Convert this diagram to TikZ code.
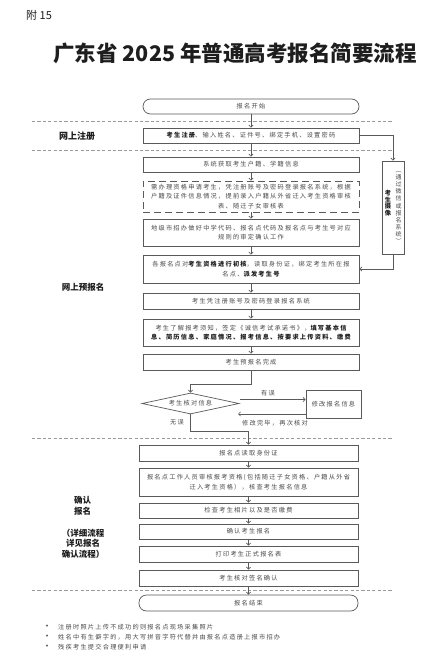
\documentclass[tikz,border=0pt]{standalone}
\usepackage{fontspec}
\setmainfont{Noto Sans CJK SC}
\newfontfamily\boxfont{Noto Sans CJK SC}[LetterSpace=20]
\usetikzlibrary{arrows.meta,shapes.geometric}
\definecolor{linec}{HTML}{5A5A5A}
\definecolor{txtc}{HTML}{4A4A4A}
\definecolor{darkc}{HTML}{1E1E1E}
\definecolor{sepc}{HTML}{9A9A9A}
\newcommand\bt[1]{\textcolor{darkc}{\bfseries #1}}
\tikzset{
  box/.style={draw=linec, line width=0.7pt, minimum height=#1, inner sep=0pt,
    align=center, font={\boxfont\fontsize{6.2pt}{9.5pt}\selectfont}, text=txtc},
  upbox/.style={box=#1, minimum width=216pt},
  lowbox/.style={box=#1, minimum width=219pt},
  startend/.style={rounded corners=7.5pt},
  dashbox/.style={dash pattern=on 7pt off 4pt},
  small/.style={inner sep=0pt, font={\boxfont\fontsize{6.2pt}{9.5pt}\selectfont}, text=txtc},
  arr/.style={draw=linec, line width=0.6pt, -{Straight Barb[length=2.2pt,width=4.2pt]}},
  plain/.style={draw=linec, line width=0.6pt},
  sepline/.style={draw=sepc, line width=0.6pt, dash pattern=on 3.2pt off 2.2pt},
  lab/.style={inner sep=0pt, font={\bfseries\fontsize{8.5pt}{11pt}\selectfont}, text=darkc},
  vtext/.style={inner sep=0pt, align=center, font={\fontsize{6pt}{7.1pt}\selectfont}, text=txtc},
}
\begin{document}
\begin{tikzpicture}[x=1pt,y=-1pt]
\useasboundingbox[fill=white] (0,0) rectangle (440,663);

% heading
\node[anchor=west, inner sep=0pt, font={\fontsize{11pt}{13pt}\selectfont}, text=darkc] (fu) at (26,15) {附 15};
\node[inner sep=0pt, font={\bfseries\fontsize{21.5pt}{25pt}\selectfont}, text=darkc] (title) at (235,53) {广东省 2025 年普通高考报名简要流程};

% separators
\coordinate (s1a) at (32,121); \coordinate (s1b) at (392,121);
\coordinate (s2a) at (32,150); \coordinate (s2b) at (392,150);
\coordinate (s3a) at (32,438); \coordinate (s3b) at (392,438);
\coordinate (s4a) at (32,590); \coordinate (s4b) at (392,590);
\draw[sepline] (s1a) -- (s1b);
\draw[sepline] (s2a) -- (s2b);
\draw[sepline] (s3a) -- (s3b);
\draw[sepline] (s4a) -- (s4b);

% upper boxes
\node[upbox=15pt, startend] (start) at (251,106.5) {报名开始};
\node[upbox=15pt] (reg) at (251,135.5) {\bt{考生注册}、输入姓名、证件号、绑定手机、设置密码};
\node[upbox=15pt] (sys) at (251,164.5) {系统获取考生户籍、学籍信息};
\node[upbox=31pt, dashbox] (qual) at (251,196.5) {需办理资格申请考生，凭注册账号及密码登录报名系统，根据\\户籍及证件信息情况，提前录入户籍从外省迁入考生资格审核\\表、随迁子女审核表};
\node[upbox=27pt] (city) at (251,232.5) {地级市招办做好中学代码、报名点代码及报名点与考生号对应\\规则的审定确认工作};
\node[upbox=28pt] (point) at (251,269) {各报名点对\bt{考生资格进行初核}，读取身份证，绑定考生所在报\\名点、\bt{派发考生号}};
\node[upbox=16pt] (login) at (251,301) {考生凭注册账号及密码登录报名系统};
\node[upbox=27pt] (info) at (251,332.5) {考生了解报考须知，签定《诚信考试承诺书》，\bt{填写基本信}\\\bt{息、简历信息、家庭情况、报考信息、按要求上传资料、缴费}};
\node[upbox=16pt] (done) at (251,362) {考生预报名完成};

% side box
\node[draw=linec, line width=0.7pt, minimum width=22pt, minimum height=93pt, inner sep=0pt] (side) at (393,207.5) {};
\node[vtext, font={\bfseries\fontsize{6.2pt}{6.6pt}\selectfont}, text=darkc] (sidea) at (388,203) {考\\生\\摄\\像};
\node[vtext] (sideb) at (398.5,207.5) {︵\\通\\过\\微\\信\\或\\报\\名\\系\\统\\︶};

% check diamond and modify box
\node[diamond, shape aspect=4.6, draw=linec, line width=0.7pt, minimum width=97pt, minimum height=21pt, inner sep=0pt,
  font={\boxfont\fontsize{6.2pt}{9.5pt}\selectfont}, text=txtc] (check) at (190.5,403.5) {考生核对信息};
\node[box=28pt, minimum width=55pt] (modify) at (333.5,404) {修改报名信息};
\node[small] (wrong) at (268,393) {有误};
\node[small] (again) at (275,423) {修改完毕，再次核对};
\node[small] (right) at (177,422) {无误};

% lower boxes
\node[lowbox=16pt] (readid) at (248.5,453) {报名点读取身份证};
\node[lowbox=28pt] (review) at (248.5,482) {报名点工作人员审核报考资格(包括随迁子女资格、户籍从外省\\迁入考生资格），核查考生报名信息};
\node[lowbox=15pt] (photo) at (248.5,510.5) {检查考生相片以及是否缴费};
\node[lowbox=15pt] (confirm) at (248.5,531.5) {确认考生报名};
\node[lowbox=16pt] (print) at (248.5,554) {打印考生正式报名表};
\node[lowbox=16pt] (sign) at (248.5,578) {考生核对签名确认};
\node[lowbox=16pt, startend] (finish) at (248.5,603) {报名结束};

% left labels
\node[lab, font={\bfseries\fontsize{9pt}{11pt}\selectfont}] (l1) at (77,136) {网上注册};
\node[lab] (l2) at (83,287) {网上预报名};
\node[lab, anchor=west, align=left] (l3) at (74,505.5) {确认\\报名};
\node[lab, align=center, font={\bfseries\fontsize{8.5pt}{10.5pt}\selectfont}] (l4) at (83,543.5) {（详细流程\\详见报名\\确认流程）};

% arrows upper
\draw[arr] (start) -- (reg);
\draw[arr] (reg) -- (sys);
\draw[arr] (sys) -- (qual);
\draw[arr] (qual) -- (city);
\draw[arr] (city) -- (point);
\draw[arr] (point) -- (login);
\draw[arr] (login) -- (info);
\draw[arr] (info) -- (done);
\coordinate (t1) at (251,384);
\draw[arr] (done.south) -- (t1) -| (check.north);

% side connectors
\draw[arr] (reg.east) -| (side.north);
\draw[arr] (side.south) |- (point.east);

% diamond connectors
\coordinate (c1) at (240,399.5);
\coordinate (c2) at (238,414);
\draw[arr] (c1) -- (c1 -| modify.west);
\draw[arr] (c2 -| modify.west) -- (c2);
\coordinate (t2) at (190.5,431);
\coordinate (t3) at (248.5,431);
\draw[plain] (check.south) -- (t2) -- (t3);
\draw[arr] (t3) -- (readid.north);

% arrows lower
\draw[arr] (readid) -- (review);
\draw[arr] (review) -- (photo);
\draw[arr] (photo) -- (confirm);
\draw[arr] (confirm) -- (print);
\draw[arr] (print) -- (sign);
\draw[arr] (sign) -- (finish);

% notes
\node[small, font={\fontsize{9pt}{9pt}\selectfont}] (b1) at (47,627) {•};
\node[small, font={\fontsize{9pt}{9pt}\selectfont}] (b2) at (47,637) {•};
\node[small, font={\fontsize{9pt}{9pt}\selectfont}] (b3) at (47,647) {•};
\node[small, anchor=west] (n1) at (58,627) {注册时照片上传不成功的则报名点现场采集照片};
\node[small, anchor=west] (n2) at (58,637) {姓名中有生僻字的，用大写拼音字符代替并由报名点造册上报市招办};
\node[small, anchor=west] (n3) at (58,647) {残疾考生提交合理便利申请};
\end{tikzpicture}
\end{document}
